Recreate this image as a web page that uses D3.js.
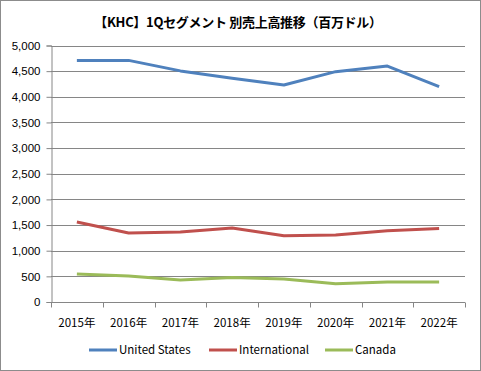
<!DOCTYPE html>
<html>
<head>
<meta charset="utf-8">
<script src="https://cdn.jsdelivr.net/npm/d3@7"></script>
<style>
  body { margin: 0; background: #fff; }
  svg { display: block; font-family: "Noto Sans CJK JP", "Noto Sans", sans-serif; }
</style>
</head>
<body>
<script>
'use strict';

const years = ['2015年', '2016年', '2017年', '2018年', '2019年', '2020年', '2021年', '2022年'];
const unitedStates = [4710, 4710, 4505, 4362, 4230, 4490, 4600, 4200];
const international = [1560, 1345, 1365, 1441, 1291, 1305, 1388, 1435];
const canada = [545, 506, 428, 479, 448, 356, 389, 389];
const yTicks = [0, 500, 1000, 1500, 2000, 2500, 3000, 3500, 4000, 4500, 5000];
const seriesNames = ['United States', 'International', 'Canada'];
const seriesColors = ['#4F81BD', '#C0504D', '#9BBB59'];

const W = 481, H = 371;
const M = { left: 51, top: 45.5, right: 16, bottom: 69 };

let svg = d3.select('body').append('svg').attr('width', W).attr('height', H);

// outer chart border
svg.append('rect')
  .attr('x', 0.5).attr('y', 0.5).attr('width', W - 1).attr('height', H - 1)
  .attr('fill', '#fff').attr('stroke', '#8c8c8c');

svg.append('text')
  .attr('x', 238).attr('y', 27)
  .attr('text-anchor', 'middle')
  .attr('font-size', 13).attr('font-weight', 'bold').attr('fill', '#000')
  .attr('letter-spacing', -0.3)
  .text('【KHC】1Qセグメント 別売上高推移（百万ドル）');

let xScale = d3.scaleBand().domain(years).range([M.left, W - M.right]);
let yScale = d3.scaleLinear().domain([0, 5000]).range([H - M.bottom, M.top]);

// gridlines
svg.append('g').selectAll('line')
  .data(yTicks.filter(d => d > 0))
  .enter().append('line')
  .attr('x1', M.left).attr('x2', W - M.right)
  .attr('y1', d => Math.round(yScale(d)) + 0.5).attr('y2', d => Math.round(yScale(d)) + 0.5)
  .attr('stroke', '#868686');

// y axis
let yAxis = d3.axisLeft(yScale).tickValues(yTicks).tickSize(5).tickPadding(6).tickFormat(d3.format(','));
let gy = svg.append('g').attr('transform', 'translate(' + (M.left + 0.5) + ',0)').call(yAxis);
gy.select('.domain').attr('stroke', '#868686');
gy.selectAll('.tick line').attr('stroke', '#868686');
gy.selectAll('.tick text').attr('font-size', 11.5).attr('fill', '#000').attr('font-family', 'inherit');

// x axis, ticks at category boundaries
let gx = svg.append('g').attr('transform', 'translate(0,' + (Math.round(yScale(0)) + 0.5) + ')');
gx.append('line').attr('x1', M.left).attr('x2', W - M.right).attr('stroke', '#868686');
let bounds = years.map(d => xScale(d)).concat([W - M.right]);
gx.selectAll('line.tk').data(bounds).enter().append('line')
  .attr('class', 'tk')
  .attr('x1', d => Math.round(d) + 0.5).attr('x2', d => Math.round(d) + 0.5)
  .attr('y1', 0).attr('y2', 5)
  .attr('stroke', '#868686');
gx.selectAll('text').data(years).enter().append('text')
  .attr('x', d => xScale(d) + xScale.bandwidth() / 2)
  .attr('y', 24)
  .attr('text-anchor', 'middle')
  .attr('font-size', 11.5).attr('fill', '#000')
  .text(d => d);

// lines
let line = d3.line()
  .x((d, i) => xScale(years[i]) + xScale.bandwidth() / 2)
  .y(d => yScale(d));

[unitedStates, international, canada].forEach((s, i) => {
  svg.append('path')
    .attr('d', line(s))
    .attr('fill', 'none')
    .attr('stroke', seriesColors[i])
    .attr('stroke-width', 3)
    .attr('stroke-linejoin', 'round');
});

// legend
const legendX = [89, 209, 325];
let lg = svg.append('g').selectAll('g').data(seriesNames).enter().append('g')
  .attr('transform', (d, i) => 'translate(' + legendX[i] + ',350)');
lg.append('line')
  .attr('x1', 0).attr('x2', 28).attr('y1', 0).attr('y2', 0)
  .attr('stroke', (d, i) => seriesColors[i]).attr('stroke-width', 3);
lg.append('text')
  .attr('x', 30).attr('y', 4)
  .attr('font-size', 11.5).attr('fill', '#000')
  .text(d => d);
</script>
</body>
</html>
